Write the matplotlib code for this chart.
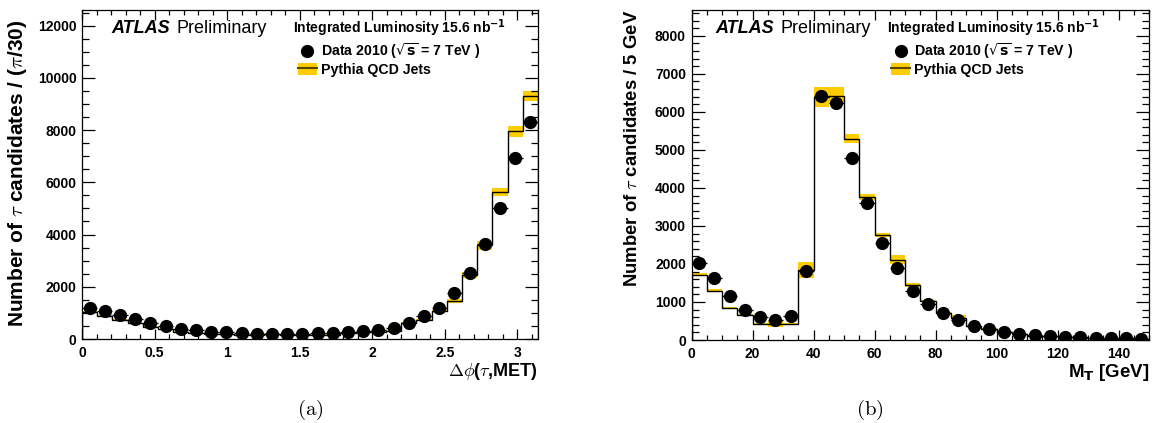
import numpy as np
import matplotlib
matplotlib.use("Agg")
import matplotlib.pyplot as plt
from matplotlib.lines import Line2D
from matplotlib.patches import Patch
from matplotlib.ticker import MultipleLocator, FormatStrFormatter

# ---- data (30 bins per panel) ----
dphi_data = [1170, 1080, 925, 785, 625, 500, 395, 345, 255, 280, 240, 190, 185, 185, 190,
             215, 230, 255, 305, 345, 420, 600, 900, 1200, 1770, 2535, 3645, 5030, 6950, 8300]
dphi_mc = [1030, 890, 745, 600, 470, 370, 285, 240, 180, 180, 165, 155, 190, 155, 155,
           160, 170, 215, 255, 280, 320, 625, 727, 1070, 1460, 2450, 3590, 5630, 7950, 9300]
dphi_mc_err = [30, 30, 25, 25, 20, 20, 15, 15, 15, 15, 15, 15, 40, 15, 15,
               15, 15, 15, 15, 15, 20, 45, 40, 50, 70, 130, 180, 160, 200, 190]

mt_data = [2020, 1630, 1160, 800, 615, 525, 640, 1815, 6410, 6230, 4790, 3595, 2545, 1885, 1290,
           955, 700, 525, 360, 290, 210, 160, 130, 105, 70, 70, 55, 45, 45, 25]
mt_mc = [1720, 1300, 850, 665, 420, 420, 420, 1840, 6400, 6430, 5290, 3755, 2765, 2115, 1455,
         1020, 710, 580, 370, 290, 210, 160, 115, 95, 70, 60, 45, 35, 35, 25]
mt_mc_err = [40, 30, 30, 30, 30, 90, 20, 200, 260, 220, 120, 75, 55, 110, 50,
             30, 25, 90, 20, 15, 15, 10, 10, 10, 10, 10, 8, 8, 8, 8]

dphi_edges = np.linspace(0, np.pi, 31)
mt_edges = np.arange(0, 155, 5)

YELLOW = "#ffcc00"
W, H = 1152, 423

plt.rcParams["font.family"] = ["Liberation Sans", "DejaVu Sans"]
plt.rcParams["mathtext.fontset"] = "cm"

fig = plt.figure(figsize=(W / 100, H / 100), dpi=100)


def px_axes(l, t, r, b):
    return fig.add_axes([l / W, 1 - b / H, (r - l) / W, (b - t) / H])


def draw_panel(ax, edges, data, mc, mc_err):
    edges = np.asarray(edges)
    mc = np.asarray(mc, float)
    err = np.asarray(mc_err, float)
    ax.fill_between(edges, np.append(mc - err, mc[-1] - err[-1]),
                    np.append(mc + err, mc[-1] + err[-1]),
                    step="post", color=YELLOW, lw=0, zorder=1)
    ax.stairs(mc, edges, color="black", lw=1.0, zorder=2)
    centers = 0.5 * (edges[:-1] + edges[1:])
    half = 0.5 * np.diff(edges)
    ax.errorbar(centers, data, xerr=half, fmt="o", color="black", ms=8.5,
                elinewidth=1.0, capsize=0, zorder=3)


def style(ax, xmaj, xmin, ymaj, ymin):
    ax.xaxis.set_major_locator(MultipleLocator(xmaj))
    ax.xaxis.set_minor_locator(MultipleLocator(xmin))
    ax.yaxis.set_major_locator(MultipleLocator(ymaj))
    ax.yaxis.set_minor_locator(MultipleLocator(ymin))
    ax.xaxis.set_major_formatter(FormatStrFormatter("%g"))
    ax.yaxis.set_major_formatter(FormatStrFormatter("%g"))
    ax.tick_params(which="both", direction="in", top=True, right=True, width=0.9,
                   labelsize=10)
    ax.tick_params(axis="y", which="major", length=9.5, pad=4)
    ax.tick_params(axis="y", which="minor", length=4.8)
    ax.tick_params(axis="x", which="major", length=7, pad=5)
    ax.tick_params(axis="x", which="minor", length=3.5)
    for lbl in ax.get_xticklabels() + ax.get_yticklabels():
        lbl.set_fontweight("bold")
    for sp in ax.spines.values():
        sp.set_linewidth(0.9)


def header(ax, x0, x_lumi, x_leg):
    ax.text(x0, 0.93, "ATLAS", transform=ax.transAxes, fontsize=13,
            fontweight="bold", style="italic", va="baseline")
    ax.text(x0 + 0.142, 0.93, "Preliminary", transform=ax.transAxes, fontsize=13,
            va="baseline")
    t = ax.text(x_lumi, 0.93, r"Integrated Luminosity 15.6 nb$^{\mathbf{-1}}$",
                transform=ax.transAxes, fontsize=10, fontweight="bold", va="baseline")
    t.set_math_fontfamily("dejavusans")
    handles = [Line2D([], [], marker="o", ls="none", color="black", ms=8.5),
               (Patch(color=YELLOW, lw=0), Line2D([], [], color="#5a4800", lw=1.5))]
    leg = ax.legend(handles, [r"Data 2010 ($\sqrt{\mathbf{s}}$ = 7 TeV )", "Pythia QCD Jets"],
                    loc="upper left", bbox_to_anchor=(x_leg, 0.905),
                    frameon=False, prop=dict(size=10.2, weight="bold"),
                    handlelength=1.35, handleheight=0.9, handletextpad=0.28,
                    labelspacing=0.11, borderaxespad=0, borderpad=0)
    for t in leg.get_texts():
        t.set_math_fontfamily("dejavusans")


# ---- (a) delta phi ----
ax1 = px_axes(82, 10, 538, 339)
draw_panel(ax1, dphi_edges, dphi_data, dphi_mc, dphi_mc_err)
ax1.set_xlim(0, np.pi)
ax1.set_ylim(0, 12600)
style(ax1, 0.5, 0.1, 2000, 500)
ax1.set_xlabel(r"$\Delta\phi$($\tau$,MET)", fontsize=13, fontweight="bold",
               loc="right", labelpad=1)
ax1.set_ylabel(r"Number of $\tau$ candidates / ($\pi$/30)", fontsize=15,
               fontweight="bold", loc="top")
ax1.yaxis.set_label_coords(-0.116, 0.97)
header(ax1, 0.065, 0.462, 0.473)

# ---- (b) transverse mass ----
ax2 = px_axes(691.5, 10, 1149, 340)
draw_panel(ax2, mt_edges, mt_data, mt_mc, mt_mc_err)
ax2.set_xlim(0, 150)
ax2.set_ylim(0, 8680)
style(ax2, 20, 5, 1000, 200)
xl = ax2.set_xlabel(r"M$_{\mathbf{T}}$ [GeV]", fontsize=13.5, fontweight="bold",
                    loc="right", labelpad=1)
xl.set_math_fontfamily("dejavusans")
ax2.set_ylabel(r"Number of $\tau$ candidates / 5 GeV", fontsize=13.3,
               fontweight="bold", loc="top")
ax2.yaxis.set_label_coords(-0.111, 1.0)
header(ax2, 0.052, 0.428, 0.436)

fig.text(310 / W, 1 - 410 / H, r"$\mathrm{(a)}$", fontsize=15, ha="center", va="center")
fig.text(870 / W, 1 - 410 / H, r"$\mathrm{(b)}$", fontsize=15, ha="center", va="center")

fig.savefig("out.png", dpi=100)
